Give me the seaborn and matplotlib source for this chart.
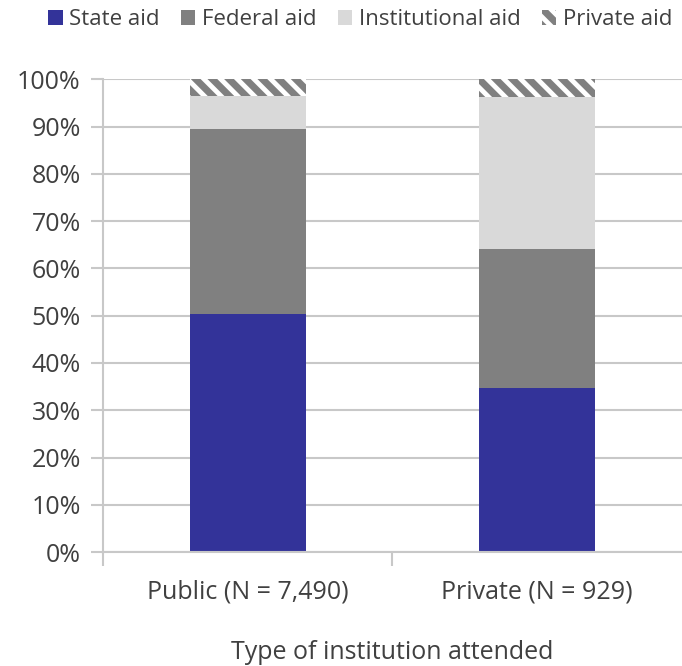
import numpy as np
import pandas as pd
import seaborn as sns
import matplotlib.pyplot as plt
from matplotlib.patches import Patch

institutions = ['Public (N = 7,490)', 'Private (N = 929)']
series = ['State aid', 'Federal aid', 'Institutional aid', 'Private aid']
state_aid = [50.3, 34.7]
federal_aid = [39.1, 29.4]
institutional_aid = [7.0, 32.1]
private_aid = [3.6, 3.8]

colors = {'State aid': '#333399', 'Federal aid': '#808080',
          'Institutional aid': '#d9d9d9', 'Private aid': '#ffffff'}
grid_col = '#c8c8c8'
text_col = '#404040'

sns.set_theme(style='white')
plt.rcParams['font.family'] = ['Open Sans', 'DejaVu Sans']
plt.rcParams['hatch.linewidth'] = 5
plt.rcParams['hatch.color'] = '#808080'

values = np.array([state_aid, federal_aid, institutional_aid, private_aid])
cum = values.cumsum(axis=0)

fig = plt.figure(figsize=(6.82, 6.66), dpi=100)
ax = fig.add_axes([0.151, 0.171, 0.849, 0.71])

# draw cumulative layers from top to bottom so lower segments cover upper ones
for i in range(len(series) - 1, -1, -1):
    df = pd.DataFrame({'inst': institutions, 'val': cum[i]})
    sns.barplot(data=df, x='inst', y='val', color=colors[series[i]], width=0.4,
                saturation=1, ax=ax, zorder=2)
    for p in ax.containers[-1]:
        p.set_linewidth(0)
        if series[i] == 'Private aid':
            p.set_hatch('\\\\')
            p.set_edgecolor('#808080')

ax.set_ylim(0, 100)
ax.set_xlim(-0.5, 1.5)
ax.set_yticks(np.arange(0, 101, 10))
ax.set_yticklabels([f'{v}%' for v in range(0, 101, 10)])
ax.yaxis.grid(True, color=grid_col, linewidth=1.5, zorder=0)
ax.set_axisbelow(True)
for s in ['top', 'right']:
    ax.spines[s].set_visible(False)
for s in ['bottom', 'left']:
    ax.spines[s].set_color(grid_col)
    ax.spines[s].set_linewidth(1.5)

ax.tick_params(axis='y', which='major', length=9, width=1.5, color=grid_col,
               labelsize=18, labelcolor=text_col, pad=7, left=True)
ax.set_xticks([0, 1])
ax.set_xticklabels(institutions)
ax.set_xticks([-0.5, 0.5], minor=True)
ax.tick_params(axis='x', which='major', length=0, labelsize=18,
               labelcolor=text_col, pad=20)
ax.tick_params(axis='x', which='minor', length=10, width=1.5,
               color=grid_col, bottom=True)
ax.set_xlabel('Type of institution attended', fontsize=18, color=text_col,
              labelpad=25)
ax.set_ylabel('')

handles = [Patch(facecolor=colors[s], edgecolor='none') for s in series[:3]]
handles.append(Patch(facecolor='white', edgecolor='#808080', hatch='\\\\',
                     linewidth=0))
fig.legend(handles, series, loc='upper center', ncol=4, frameon=False,
           bbox_to_anchor=(0.528, 1.016), fontsize=16, handlelength=0.65,
           handleheight=0.65, handletextpad=0.3, columnspacing=0.95,
           labelcolor=text_col)

fig.savefig('out.png', dpi=100)
